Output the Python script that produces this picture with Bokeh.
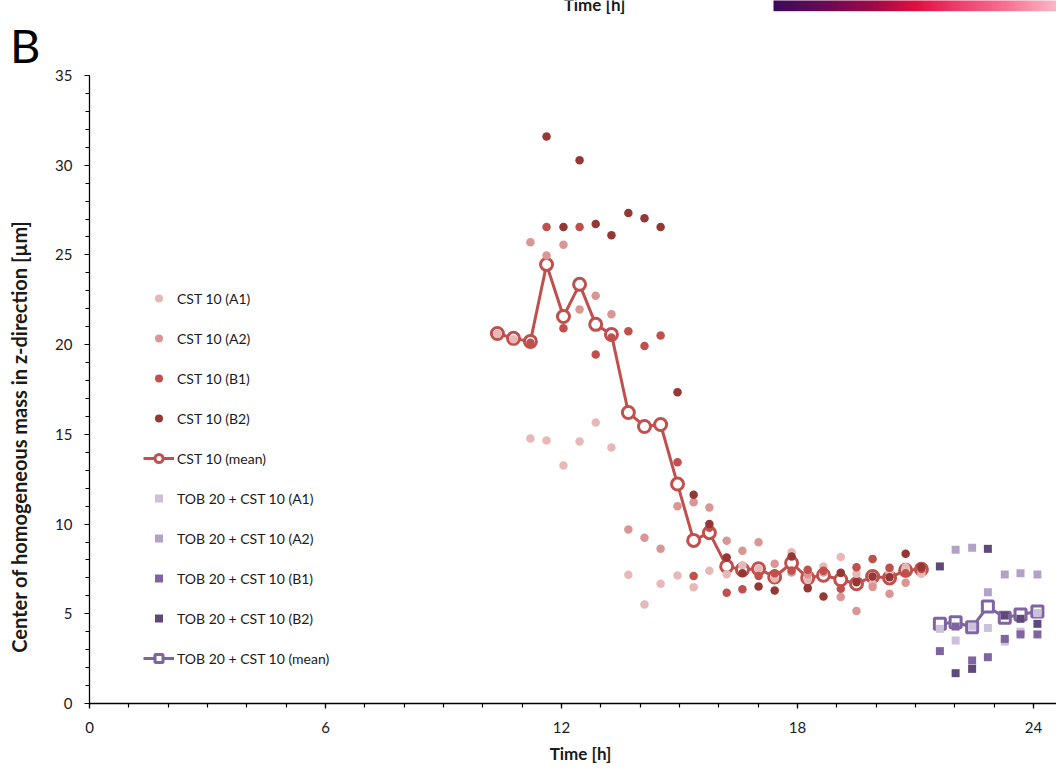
import numpy as np
from bokeh.plotting import figure
from bokeh.models import Legend, LegendItem, SingleIntervalTicker, Range1d, LinearAxis
from bokeh.core.properties import value
from bokeh.embed import file_html
from bokeh.resources import INLINE

nan = float("nan")

# ---------------- data ----------------
cst_time = [10.37, 10.78, 11.21, 11.62, 12.05, 12.46, 12.87, 13.27, 13.70, 14.11,
            14.52, 14.95, 15.36, 15.76, 16.20, 16.60, 17.01, 17.42, 17.85, 18.26,
            18.66, 19.10, 19.50, 19.91, 20.34, 20.75, 21.15]
cst_mean = [20.62, 20.35, 20.18, 24.47, 21.57, 23.36, 21.13, 20.57, 16.22, 15.44,
            15.55, 12.23, 9.09, 9.52, 7.64, 7.46, 7.51, 7.05, 7.83, 7.00,
            7.15, 6.90, 6.67, 7.08, 7.00, 7.43, 7.48]
cst_a1 = [20.6, 20.3, 14.77, 14.66, 13.27, 14.60, 15.66, 14.27, 7.17, 5.52,
          6.67, 7.13, 6.48, 7.40, 7.20, 7.70, 7.49, 6.97, 8.43, 6.89,
          7.64, 8.16, 7.23, 6.67, 7.30, 7.60, 7.23]
cst_a2 = [nan, nan, 25.71, 24.97, 25.57, 21.96, 22.73, 21.70, 9.70, 9.24,
          8.62, 11.00, 11.22, 10.93, 9.07, 8.51, 8.99, 7.79, 7.30, 7.20,
          7.30, 5.93, 5.15, 6.50, 6.11, 6.73, 7.50]
cst_b1 = [nan, nan, 20.10, 26.55, 20.92, 26.55, 19.45, 20.40, 20.74, 19.92,
          20.51, 13.45, 7.11, 9.80, 6.17, 6.37, 7.10, 7.26, 7.41, 7.45,
          7.40, 6.39, 7.60, 8.06, 7.56, 7.26, 7.50]
cst_b2 = [nan, nan, nan, 31.60, 26.55, 30.27, 26.73, 26.09, 27.33, 27.05,
          26.55, 17.35, 11.63, 10.01, 8.14, 7.26, 6.52, 6.30, 8.19, 6.43,
          5.96, 7.28, 6.76, 7.08, 7.04, 8.34, 7.60]

tob_time = [21.62, 22.02, 22.44, 22.84, 23.27, 23.67, 24.10]
tob_mean = [4.44, 4.53, 4.25, 5.41, 4.78, 4.96, 5.13]
tob_a1 = [4.16, 3.51, 4.29, 4.21, 3.45, 4.00, 5.04]
tob_a2 = [nan, 8.57, 8.68, 6.20, 7.19, 7.26, 7.19]
tob_b1 = [2.92, 4.29, 2.40, 2.58, 3.60, 3.85, 3.85]
tob_b2 = [7.64, 1.69, 1.93, 8.62, 4.90, 4.72, 4.44]

cst_labels = ["CST 10 (A1)", "CST 10 (A2)", "CST 10 (B1)", "CST 10 (B2)", "CST 10 (mean)"]
tob_labels = ["TOB 20 + CST 10 (A1)", "TOB 20 + CST 10 (A2)", "TOB 20 + CST 10 (B1)",
              "TOB 20 + CST 10 (B2)", "TOB 20 + CST 10 (mean)"]
x_title = "Time [h]"
y_title = "Center of homogeneous mass in z-direction [µm]"
panel_letter = "B"

# ---------------- styles ----------------
CST_COLORS = ["#e6b9b8", "#d99694", "#c0504d", "#953735"]
TOB_COLORS = ["#ccc1da", "#b3a2c7", "#8064a2", "#5f497a"]
CST_LINE = "#c0504d"
TOB_LINE = "#8064a2"
FONT = "Lato"
TXT = "#1a1a1a"

W, H = 1056, 763
X0_PX, PX_PER_H = 89.0, 39.333          # x = 0 at 89 px, 24 h at 1033 px
Y0_PX, PX_PER_U = 703.0, 17.943         # y = 0 at 703 px, 35 at 75 px
X_MIN, X_MAX = -X0_PX / PX_PER_H, (W - X0_PX) / PX_PER_H
Y_MIN, Y_MAX = -(H - Y0_PX) / PX_PER_U, Y0_PX / PX_PER_U

p = figure(width=W, height=H, output_backend="svg", toolbar_location=None,
           x_range=Range1d(X_MIN, X_MAX), y_range=Range1d(Y_MIN, Y_MAX),
           x_axis_location=None, y_axis_location=None,
           min_border_left=0, min_border_right=0, min_border_top=0, min_border_bottom=0)
p.outline_line_color = None
p.grid.visible = False
p.background_fill_color = "white"
p.border_fill_color = "white"

xa = LinearAxis(fixed_location=0, bounds=(0, X_MAX),
                ticker=SingleIntervalTicker(interval=6, num_minor_ticks=6))
ya = LinearAxis(fixed_location=0, bounds=(0, 35),
                ticker=SingleIntervalTicker(interval=5, num_minor_ticks=5))
for ax in (xa, ya):
    ax.axis_line_color = "#000000"
    ax.axis_line_width = 1.3
    ax.major_tick_line_color = "#000000"
    ax.minor_tick_line_color = "#000000"
    ax.major_tick_line_width = 1.2
    ax.minor_tick_line_width = 1.2
    ax.major_tick_in = 0
    ax.major_tick_out = 5
    ax.minor_tick_in = 0
    ax.minor_tick_out = 4
    ax.major_label_text_font = FONT
    ax.major_label_text_font_size = "15px"
    ax.major_label_text_color = TXT
xa.major_label_standoff = 13
ya.major_label_standoff = 12
p.add_layout(xa, "below")
p.add_layout(ya, "left")

# colour bar fragment of the panel above (decoration, clipped by the canvas top)
stops = [(0.0, (60, 10, 92)), (0.18, (106, 10, 85)), (0.35, (160, 8, 72)),
         (0.5, (224, 16, 64)), (0.66, (240, 64, 112)), (0.82, (250, 112, 144)),
         (1.0, (248, 184, 200))]
N = 300
img = np.empty((1, N), dtype=np.uint32)
view = img.view(dtype=np.uint8).reshape((1, N, 4))
sp = np.array([s[0] for s in stops])
for c in range(3):
    view[0, :, c] = np.interp(np.linspace(0, 1, N), sp, [s[1][c] for s in stops]).astype(np.uint8)
view[0, :, 3] = 255
bar_x0 = (773 - X0_PX) / PX_PER_H
bar_y0 = (Y0_PX - 10.7) / PX_PER_U
p.image_rgba(image=[img], x=bar_x0, y=bar_y0, dw=X_MAX - bar_x0, dh=1.0)
p.text(x=[(594 - X0_PX) / PX_PER_H], y=[(Y0_PX - 3.5) / PX_PER_U], text=[x_title],
       text_font=value(FONT), text_font_style="bold", text_font_size="17px",
       text_align="center", text_baseline="alphabetic", text_color=TXT)

# titles drawn as text inside the full-canvas frame
p.text(x=[(580 - X0_PX) / PX_PER_H], y=[(Y0_PX - 753) / PX_PER_U], text=[x_title],
       text_font=value(FONT), text_font_style="bold", text_font_size="17px",
       text_align="center", text_baseline="middle", text_color=TXT)
p.text(x=[(18 - X0_PX) / PX_PER_H], y=[(Y0_PX - 436) / PX_PER_U], text=[y_title],
       angle=np.pi / 2, text_font=value(FONT), text_font_style="bold", text_font_size="20px",
       text_align="center", text_baseline="middle", text_color=TXT)
p.text(x=[(9.5 - X0_PX) / PX_PER_H], y=[(Y0_PX - 44) / PX_PER_U], text=[panel_letter],
       text_font=value(FONT), text_font_size="47px", text_align="left",
       text_baseline="alphabetic", text_color="#000000")

# mean series (drawn first, replicate dots sit on top)
r_cm_line = p.line(cst_time, cst_mean, line_color=CST_LINE, line_width=3)
r_cm_mark = p.scatter(cst_time, cst_mean, marker="circle", size=12, line_color=CST_LINE,
                      line_width=3, fill_color="white")
r_tm_line = p.line(tob_time, tob_mean, line_color=TOB_LINE, line_width=3)
r_tm_mark = p.scatter(tob_time, tob_mean, marker="square", size=11, line_color=TOB_LINE,
                      line_width=3, fill_color="white")

cst_r = []
for ys, col in zip([cst_a1, cst_a2, cst_b1, cst_b2], CST_COLORS):
    cst_r.append(p.scatter(cst_time, ys, marker="circle", size=8.5, fill_color=col, line_color=None))
tob_r = []
for ys, col in zip([tob_a1, tob_a2, tob_b1, tob_b2], TOB_COLORS):
    tob_r.append(p.scatter(tob_time, ys, marker="square", size=8, fill_color=col, line_color=None))

items = []
for lab, r in zip(cst_labels[:4], cst_r):
    items.append(LegendItem(label=lab, renderers=[r]))
items.append(LegendItem(label=cst_labels[4], renderers=[r_cm_line, r_cm_mark]))
for lab, r in zip(tob_labels[:4], tob_r):
    items.append(LegendItem(label=lab, renderers=[r]))
items.append(LegendItem(label=tob_labels[4], renderers=[r_tm_line, r_tm_mark]))

legend = Legend(items=items, location=(143, 95), glyph_width=31, glyph_height=20,
                label_height=20, spacing=20, padding=0, margin=0, label_standoff=3,
                border_line_color=None, background_fill_alpha=0,
                label_text_font=FONT, label_text_font_size="14px", label_text_color=TXT)
p.add_layout(legend)

open("out.html", "w").write(file_html(p, INLINE))
